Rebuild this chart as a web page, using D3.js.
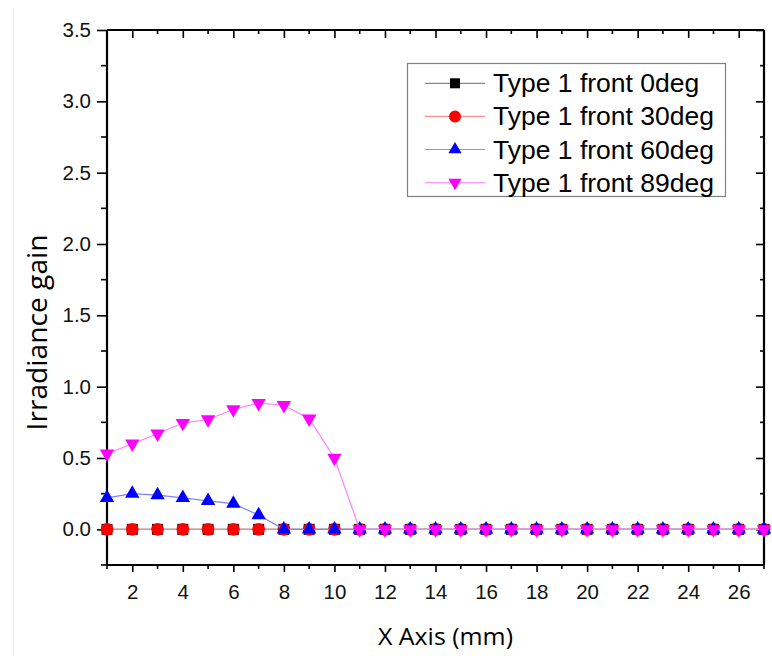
<!DOCTYPE html>
<html>
<head>
<meta charset="utf-8">
<script src="https://cdn.jsdelivr.net/npm/d3@7"></script>
<style>
  html, body { margin: 0; padding: 0; background: #fff; }
  svg { display: block; }
</style>
</head>
<body>
<svg id="chart" width="772" height="656"></svg>
<script>
// Positions along the X axis (mm)
const xPositions = d3.range(1, 28);

// Irradiance gain per series
const gain0deg = [0,0,0,0,0,0,0,0,0,0,0,0,0,0,0,0,0,0,0,0,0,0,0,0,0,0,0];
const gain30deg = [0,0,0,0,0,0,0,0,0,0,0,0,0,0,0,0,0,0,0,0,0,0,0,0,0,0,0];
const gain60deg = [0.22,0.25,0.24,0.22,0.20,0.18,0.10,0,0,0,0,0,0,0,0,0,0,0,0,0,0,0,0,0,0,0,0];
const gain89deg = [0.53,0.60,0.67,0.745,0.77,0.84,0.885,0.87,0.775,0.50,0,0,0,0,0,0,0,0,0,0,0,0,0,0,0,0,0];

const seriesNames = ["Type 1 front 0deg", "Type 1 front 30deg", "Type 1 front 60deg", "Type 1 front 89deg"];

const xTicks = [2,4,6,8,10,12,14,16,18,20,22,24,26];
const yTicks = [0.0,0.5,1.0,1.5,2.0,2.5,3.0,3.5];

const series = [
  { name: seriesNames[0], values: gain0deg, marker: "#000000", line: "#555555", legendLine: "#888888", shape: "square" },
  { name: seriesNames[1], values: gain30deg, marker: "#ff0000", line: "#ff8080", legendLine: "#ff9090", shape: "circle" },
  { name: seriesNames[2], values: gain60deg, marker: "#0000ff", line: "#8080ff", legendLine: "#9090ff", shape: "up" },
  { name: seriesNames[3], values: gain89deg, marker: "#ff00ff", line: "#ff80ff", legendLine: "#ff99ff", shape: "down" }
];

const svg = d3.select("#chart");
const plotLeft = 107, plotRight = 764, plotTop = 30, plotBottom = 565;

const x = d3.scaleLinear().domain([1, 27]).range([plotLeft, plotRight]);
const y = d3.scaleLinear().domain([-0.25, 3.5]).range([plotBottom, plotTop]);

// faint page edge on the left
svg.append("line").attr("x1", 13.5).attr("x2", 13.5).attr("y1", 8).attr("y2", 656)
  .attr("stroke", "#ececec").attr("stroke-width", 1);

const tickFont = "'Liberation Sans', Arial, sans-serif";
const minorX = d3.range(1, 28).filter(v => v % 2 === 1);
const minorY = [-0.25,0.25,0.75,1.25,1.75,2.25,2.75,3.25];

function minorTicks(values, fn) {
  svg.append("g").selectAll("line").data(values).join("line")
    .each(function(d) { const c = fn(d); d3.select(this).attr("x1", c[0]).attr("y1", c[1]).attr("x2", c[2]).attr("y2", c[3]); })
    .attr("stroke", "#000").attr("stroke-width", 1.6);
}

// Bottom axis: outward ticks, majors labelled
const gB = svg.append("g").attr("transform", `translate(0,${plotBottom})`)
  .call(d3.axisBottom(x).tickValues(xTicks).tickSize(7).tickPadding(12).tickFormat(d3.format("d")));
minorTicks(minorX, d => [x(d), plotBottom, x(d), plotBottom + 4]);

// Left axis
const gL = svg.append("g").attr("transform", `translate(${plotLeft},0)`)
  .call(d3.axisLeft(y).tickValues(yTicks).tickSize(10).tickPadding(6).tickFormat(d3.format(".1f")));
minorTicks(minorY, d => [plotLeft - 6, y(d), plotLeft, y(d)]);

// Top axis: inward ticks, no labels
const gT = svg.append("g").attr("transform", `translate(0,${plotTop})`)
  .call(d3.axisTop(x).tickValues(xTicks).tickSize(-8).tickFormat(""));
minorTicks(minorX, d => [x(d), plotTop, x(d), plotTop + 4]);

// Right axis: inward ticks, no labels
const gR = svg.append("g").attr("transform", `translate(${plotRight},0)`)
  .call(d3.axisRight(y).tickValues(yTicks).tickSize(-8).tickFormat(""));
minorTicks(minorY, d => [plotRight - 4, y(d), plotRight, y(d)]);

[gB, gL, gT, gR].forEach(g => {
  g.select(".domain").attr("stroke", "#000").attr("stroke-width", 2.2);
  g.selectAll(".tick line").attr("stroke", "#000").attr("stroke-width", 1.6);
  g.selectAll("text").attr("font-family", tickFont).attr("font-size", 20.5).attr("fill", "#111");
});
gB.select(".domain").attr("d", `M${plotLeft},0H${plotRight}`);
gT.select(".domain").attr("d", `M${plotLeft},0H${plotRight}`);
gL.select(".domain").attr("d", `M0,${plotTop}V${plotBottom}`);
gR.select(".domain").attr("d", `M0,${plotTop}V${plotBottom}`);

// Axis titles
svg.append("text")
  .attr("transform", `translate(47,332.5) rotate(-90)`)
  .attr("text-anchor", "middle")
  .attr("font-family", "'Open Sans', sans-serif").attr("font-size", 28).attr("fill", "#000")
  .attr("textLength", 196).attr("lengthAdjust", "spacingAndGlyphs")
  .text("Irradiance gain");
svg.append("text")
  .attr("x", 445.5).attr("y", 645)
  .attr("text-anchor", "middle")
  .attr("font-family", "'Open Sans', sans-serif").attr("font-size", 24.5).attr("fill", "#000")
  .attr("textLength", 135).attr("lengthAdjust", "spacingAndGlyphs")
  .text("X Axis (mm)");

// Marker paths (sizes are areas in px²)
const markerArea = { square: 120, circle: 125, up: 90, down: 90 };
const legendArea = { square: 100, circle: 113, up: 75, down: 75 };
function markerPath(shape, areas) {
  const a = areas[shape];
  if (shape === "square") return d3.symbol(d3.symbolSquare, a)();
  if (shape === "circle") return d3.symbol(d3.symbolCircle, a)();
  return d3.symbol(d3.symbolTriangle, a)();
}

const line = d3.line().x(d => x(d[0])).y(d => y(d[1]));

const plot = svg.append("g");
series.forEach(s => {
  const pts = xPositions.map((xv, i) => [xv, s.values[i]]);
  const g = plot.append("g");
  g.append("path").attr("d", line(pts)).attr("fill", "none")
    .attr("stroke", s.line).attr("stroke-width", 1.2);
  g.selectAll("path.m").data(pts).join("path").attr("class", "m")
    .attr("d", markerPath(s.shape, markerArea))
    .attr("transform", d => `translate(${x(d[0])},${y(d[1])})${s.shape === "down" ? " rotate(180)" : ""}`)
    .attr("fill", s.marker);
});

// Legend
const lg = svg.append("g");
lg.append("rect").attr("x", 407.5).attr("y", 63.5).attr("width", 318).attr("height", 133)
  .attr("fill", "#fff").attr("stroke", "#808080").attr("stroke-width", 1.2);
series.forEach((s, i) => {
  const cy = 83.3 + i * 33.1;
  lg.append("line").attr("x1", 425).attr("x2", 485).attr("y1", cy).attr("y2", cy)
    .attr("stroke", s.legendLine).attr("stroke-width", 1.2);
  lg.append("path").attr("d", markerPath(s.shape, legendArea))
    .attr("transform", `translate(455,${cy})${s.shape === "down" ? " rotate(180)" : ""}`)
    .attr("fill", s.marker);
  lg.append("text").attr("x", 493).attr("y", cy + 9)
    .attr("font-family", tickFont).attr("font-size", 26.5).attr("fill", "#000")
    .text(s.name);
});
</script>
</body>
</html>
